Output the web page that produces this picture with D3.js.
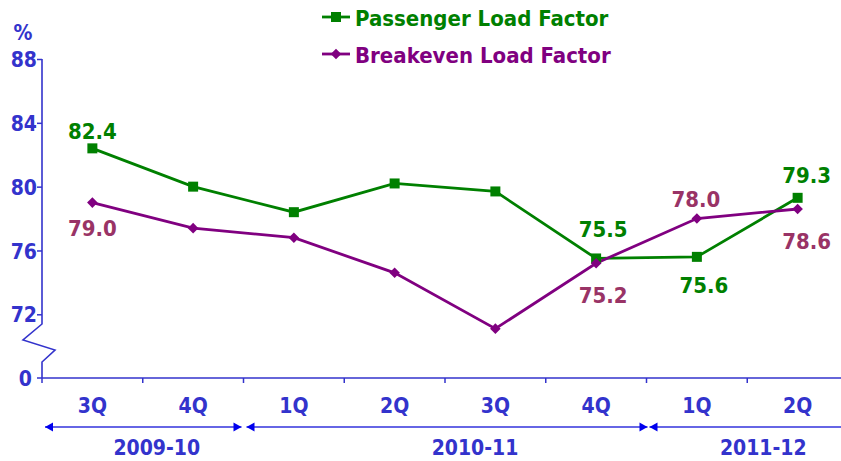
<!DOCTYPE html>
<html><head><meta charset="utf-8">
<script src="https://cdn.jsdelivr.net/npm/d3@7"></script>
<style>
html,body{margin:0;padding:0;background:#fff;}
text{font-family:"DejaVu Sans Condensed","DejaVu Sans",sans-serif;font-weight:bold;font-stretch:condensed;}
</style></head>
<body><svg id="c" width="841" height="461"></svg>
<script>
const quarters = ["3Q","4Q","1Q","2Q","3Q","4Q","1Q","2Q"];
const passenger = [82.4, 80.0, 78.4, 80.2, 79.7, 75.5, 75.6, 79.3];
const breakeven = [79.0, 77.4, 76.8, 74.6, 71.1, 75.2, 78.0, 78.6];
const yTicks = [72, 76, 80, 84, 88];
const years = [{label:"2009-10", from:0, to:2}, {label:"2010-11", from:2, to:6}, {label:"2011-12", from:6, to:8}];
const seriesNames = ["Passenger Load Factor", "Breakeven Load Factor"];
// labelled points: series, index
const labelled = [
  {s:0,i:0},{s:1,i:0},{s:0,i:5},{s:1,i:5},{s:1,i:6},{s:0,i:6},{s:0,i:7},{s:1,i:7}
];

const svg = d3.select("#c");
const AX = "#3333cc", GREEN = "#008000", PURPLE = "#800080", PLABEL = "#993366";
const left = 42, right = 848, baseY = 378;

const x = d3.scaleBand().domain(d3.range(quarters.length)).range([left, right]);
const y = d3.scaleLinear().domain([72, 88]).range([314.3, 59]);
const cx = i => x(i) + x.bandwidth()/2;

// y axis (with break)
const yAxisG = svg.append("g").attr("transform", `translate(${left},0)`);
yAxisG.call(d3.axisLeft(y).tickValues(yTicks).tickSize(5).tickFormat(d3.format("d")));
yAxisG.select(".domain").remove();
yAxisG.selectAll("line").attr("stroke", AX).attr("stroke-width", 1.5);
yAxisG.selectAll("text").attr("fill", AX).attr("font-size", 21).attr("x", -5).attr("dy", "0.36em");
// zero tick
yAxisG.append("line").attr("x1", -5).attr("x2", 0).attr("y1", baseY).attr("y2", baseY).attr("stroke", AX).attr("stroke-width", 1.5);
yAxisG.append("text").attr("x", -10).attr("y", baseY).attr("dy", "0.36em").attr("text-anchor", "end")
  .attr("fill", AX).attr("font-size", 21).text("0");
// axis line with zig-zag break
svg.append("path")
  .attr("d", `M${left},${y(88)}L${left},324L23,340L55,350L${left},362L${left},${baseY}`)
  .attr("fill", "none").attr("stroke", AX).attr("stroke-width", 1.6);
svg.append("text").attr("x", 23).attr("y", 40).attr("text-anchor", "middle").attr("fill", AX)
  .attr("font-size", 21).text("%");

// x axis
svg.append("line").attr("x1", left).attr("x2", 841).attr("y1", baseY).attr("y2", baseY).attr("stroke", AX).attr("stroke-width", 1.6);
d3.range(quarters.length).forEach(i => {
  svg.append("line").attr("x1", x(i)).attr("x2", x(i)).attr("y1", baseY).attr("y2", baseY + 5).attr("stroke", AX).attr("stroke-width", 1.5);
});
svg.selectAll("text.q").data(quarters).enter().append("text").attr("class", "q")
  .attr("x", (d, i) => cx(i)).attr("y", 413).attr("text-anchor", "middle").attr("fill", AX)
  .attr("font-size", 21).text(d => d);

// year arrows
const arrowY = 427;
function head(xp, dir) {
  svg.append("path").attr("d", `M${xp},${arrowY}L${xp - dir*8},${arrowY-4.5}L${xp - dir*8},${arrowY+4.5}Z`).attr("fill", "#0000ee");
}
const bx = i => left + i * x.step();
years.forEach((yr, k) => {
  const x0 = bx(yr.from) + 3, x1 = Math.min(bx(yr.to) - (k === 1 ? -3 : 0) - 2, 841);
  svg.append("line").attr("x1", x0).attr("x2", yr.to === 8 ? 841 : x1).attr("y1", arrowY).attr("y2", arrowY)
    .attr("stroke", "#3333dd").attr("stroke-width", 1.4);
  head(x0, -1);
  if (yr.to < 8) head(x1, 1);
});
const yearOffset = [14, 30, 16];
years.forEach((yr, k) => {
  const mid = (cx(yr.from) + cx(yr.to - 1)) / 2 + yearOffset[k];
  svg.append("text").attr("x", mid).attr("y", 455).attr("text-anchor", "middle").attr("fill", AX)
    .attr("font-size", 21).text(yr.label);
});

// lines
const line = d3.line().x((d, i) => cx(i)).y(d => y(d));
svg.append("path").datum(passenger).attr("d", line).attr("fill", "none").attr("stroke", GREEN).attr("stroke-width", 2.8);
svg.append("path").datum(breakeven).attr("d", line).attr("fill", "none").attr("stroke", PURPLE).attr("stroke-width", 2.8);
const sq = d3.symbol().type(d3.symbolSquare).size(100);
const dm = d3.symbol().type(d3.symbolSquare).size(56);
svg.selectAll("path.pm").data(passenger).enter().append("path").attr("class", "pm")
  .attr("d", sq).attr("transform", (d, i) => `translate(${cx(i)},${y(d)})`).attr("fill", GREEN);
svg.selectAll("path.bm").data(breakeven).enter().append("path").attr("class", "bm")
  .attr("d", dm).attr("transform", (d, i) => `translate(${cx(i)},${y(d)}) rotate(45)`).attr("fill", PURPLE);

// data labels
const place = {"0-0":[0,-9.5], "1-0":[0,33], "0-5":[7,-21.5], "1-5":[7,40], "1-6":[-1,-12], "0-6":[7,36], "0-7":[9,-15], "1-7":[9,40]};
const data = [passenger, breakeven];
labelled.forEach(l => {
  const v = data[l.s][l.i], off = place[l.s + "-" + l.i];
  svg.append("text").attr("x", cx(l.i) + off[0]).attr("y", y(v) + off[1]).attr("text-anchor", "middle")
    .attr("fill", l.s === 0 ? GREEN : PLABEL).attr("font-size", 22).text(v.toFixed(1));
});

// legend
const lg = svg.append("g");
[[GREEN, sq, 17, 0], [PURPLE, dm, 54, 45]].forEach((c, k) => {
  lg.append("line").attr("x1", 322).attr("x2", 350).attr("y1", c[2]).attr("y2", c[2]).attr("stroke", c[0]).attr("stroke-width", 2.8);
  lg.append("path").attr("d", c[1]).attr("transform", `translate(336,${c[2]}) rotate(${c[3]})`).attr("fill", c[0]);
  lg.append("text").attr("x", 355).attr("y", c[2] + 9).attr("fill", c[0]).attr("font-size", 22).text(seriesNames[k]);
});
</script></body></html>
